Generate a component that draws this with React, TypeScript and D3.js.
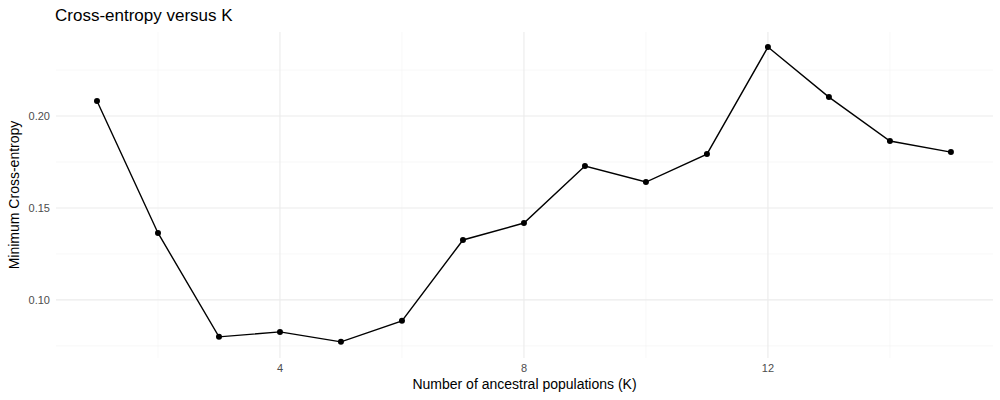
import * as d3 from "d3";

const ks = [1, 2, 3, 4, 5, 6, 7, 8, 9, 10, 11, 12, 13, 14, 15];
const crossEntropy = [0.2082, 0.1364, 0.0799, 0.0826, 0.0772, 0.0886, 0.1326, 0.1418, 0.1728, 0.1641, 0.1793, 0.2375, 0.2103, 0.1864, 0.1804];
const xMajor = [4, 8, 12];
const xMinor = [2, 6, 10, 14];
const yMajor = [0.1, 0.15, 0.2];
const yMinor = [0.075, 0.125, 0.175, 0.225];

export default function App() {
  const width = 1000, height = 400;
  const left = 56, right = 993, top = 32, bottom = 358;
  const x = d3.scaleLinear().domain([0.328, 15.69]).range([left, right]);
  const y = d3.scaleLinear().domain([0.0684, 0.2457]).range([bottom, top]);
  const line = d3.line<number>().x((_, i) => x(ks[i])).y(d => y(d));
  const font = "'Liberation Sans', Arial, sans-serif";

  return (
    <svg width={width} height={height} style={{ position: "absolute", left: 0, top: 0, fontFamily: font }}>
      <rect width={width} height={height} fill="white" />
      {xMinor.map(v => <line key={"xm" + v} x1={x(v)} x2={x(v)} y1={top} y2={bottom} stroke="#f3f3f3" strokeWidth={0.6} />)}
      {yMinor.map(v => <line key={"ym" + v} x1={left} x2={right} y1={y(v)} y2={y(v)} stroke="#f3f3f3" strokeWidth={0.6} />)}
      {xMajor.map(v => <line key={"xM" + v} x1={x(v)} x2={x(v)} y1={top} y2={bottom} stroke="#ebebeb" strokeWidth={1.1} />)}
      {yMajor.map(v => <line key={"yM" + v} x1={left} x2={right} y1={y(v)} y2={y(v)} stroke="#ebebeb" strokeWidth={1.1} />)}
      <path d={line(crossEntropy) ?? ""} fill="none" stroke="black" strokeWidth={1.4} />
      {crossEntropy.map((v, i) => <circle key={i} cx={x(ks[i])} cy={y(v)} r={3} fill="black" />)}
      {xMajor.map(v => <text key={"xt" + v} x={x(v)} y={372} textAnchor="middle" fontSize={11} fill="#4d4d4d">{v}</text>)}
      {yMajor.map(v => <text key={"yt" + v} x={left - 6} y={y(v) + 4} textAnchor="end" fontSize={11} fill="#4d4d4d">{d3.format(".2f")(v)}</text>)}
      <text x={(left + right) / 2} y={389} textAnchor="middle" fontSize={14}>Number of ancestral populations (K)</text>
      <text transform={`translate(19,${(top + bottom) / 2}) rotate(-90)`} textAnchor="middle" fontSize={14}>Minimum Cross-entropy</text>
      <text x={55} y={21} fontSize={17}>Cross-entropy versus K</text>
    </svg>
  );
}
